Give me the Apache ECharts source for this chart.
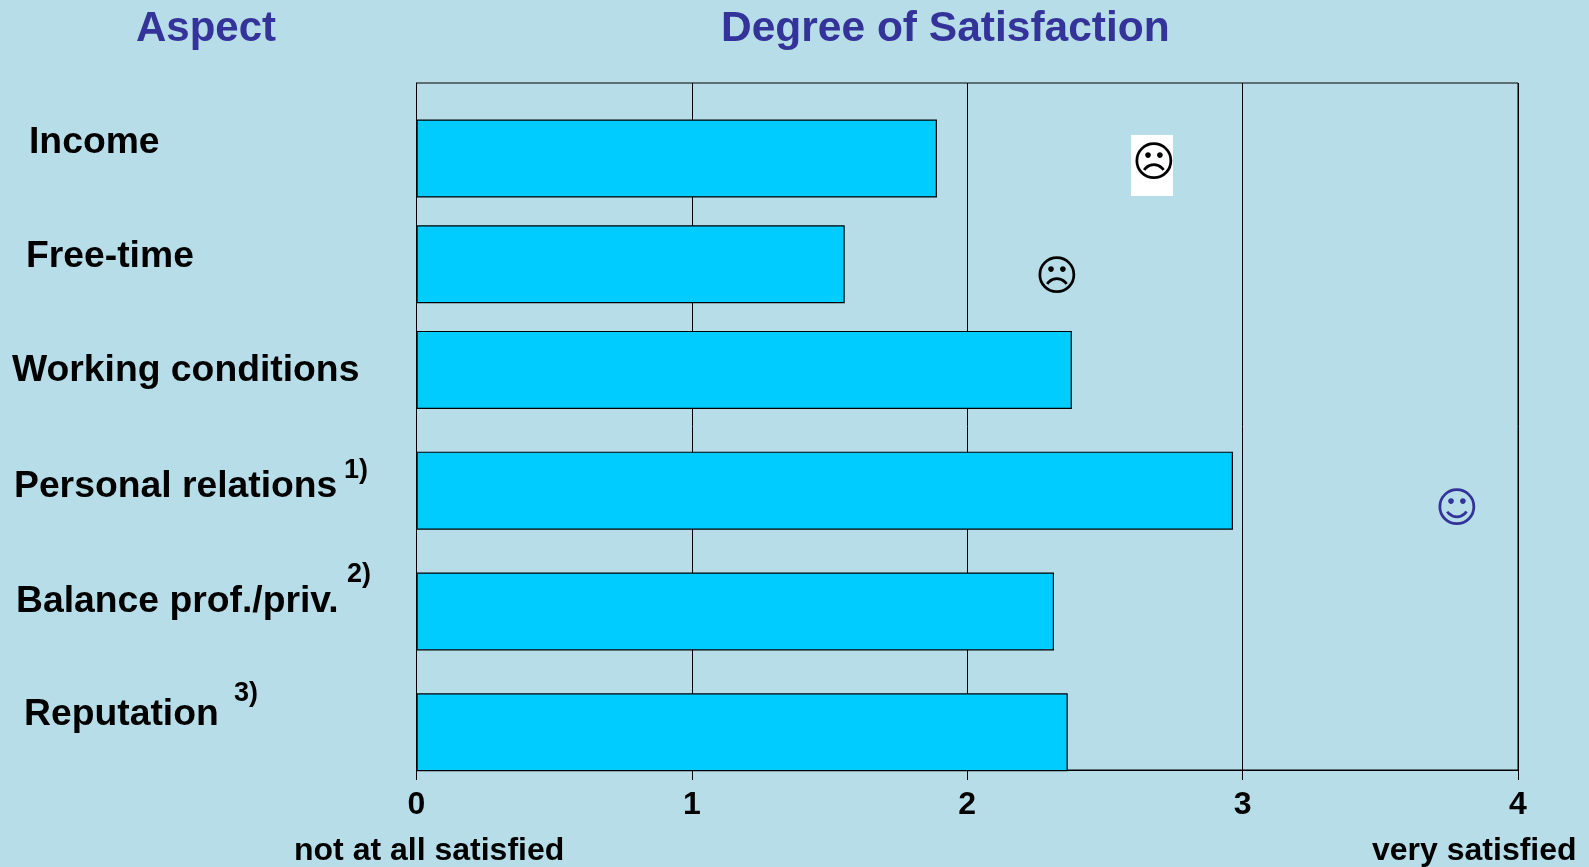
<!DOCTYPE html>
<html>
<head>
<meta charset="utf-8">
<title>Degree of Satisfaction</title>
<script src="https://cdn.jsdelivr.net/npm/echarts@6/dist/echarts.min.js"></script>
<style>
  html, body { margin: 0; height: 100%; background: #b7dde8; }
  #chart { width: 1589px; height: 867px; }
</style>
</head>
<body>
<div id="chart"></div>
<script>
// Chart data
const aspects = ['Income', 'Free-time', 'Working conditions', 'Personal relations', 'Balance prof./priv.', 'Reputation'];
const satisfaction = [1.89, 1.555, 2.38, 2.965, 2.315, 2.365];
const rowSteps = [14, 14, 16, 16, 16]; // rows are not evenly spaced, steps in axis slots
const scaleTicks = [0, 1, 2, 3, 4];

const FONT = '"Liberation Sans", Arial, sans-serif';
const BLUE = '#333399';

// Category axis with blank slots so the bars land on the uneven rows
const slots = [];
const values = [];
function addBlanks(n) {
    for (let i = 0; i < n; i++) {
        slots.push('');
        values.push(null);
    }
}
addBlanks(10);
aspects.forEach((name, i) => {
    slots.push(name);
    values.push(satisfaction[i]);
    if (i < rowSteps.length) addBlanks(rowSteps[i] - 1);
});
addBlanks(5);

function text(str, x, y, size, color, extra) {
    return {
        type: 'text',
        x: x,
        y: y,
        z: 10,
        style: Object.assign({
            text: str,
            font: 'bold ' + size + 'px ' + FONT,
            fill: color || '#000',
            textVerticalAlign: 'middle'
        }, extra || {})
    };
}

const labelX = [29, 26, 12, 14, 16, 24];
const labelY = [143, 257, 371, 487, 602, 715];
const notes = [
    text('1)', 344, 471, 27),
    text('2)', 347, 575, 27),
    text('3)', 234, 694, 27)
];

const faceFont = '"DejaVu Sans", sans-serif';
function face(glyph, x, y, color) {
    return text(glyph, x, y, 42, color, { font: '42px ' + faceFont, textAlign: 'center' });
}

const myChart = echarts.init(document.getElementById('chart'));

myChart.setOption({
    backgroundColor: '#b7dde8',
    animation: false,
    grid: {
        left: 416.5,
        right: 71,
        top: 83,
        height: 687,
        show: true,
        borderColor: '#000',
        borderWidth: 1
    },
    xAxis: {
        type: 'value',
        min: 0,
        max: 4,
        interval: 1,
        axisLine: { show: true, lineStyle: { color: '#000', width: 1 } },
        axisTick: { show: true, length: 10, lineStyle: { color: '#000', width: 1 } },
        splitLine: { show: true, lineStyle: { color: '#000', width: 1, type: 'solid' } },
        axisLabel: {
            color: '#000',
            fontFamily: FONT,
            fontWeight: 'bold',
            fontSize: 32,
            margin: 19,
            formatter: v => scaleTicks.includes(v) ? String(v) : ''
        }
    },
    yAxis: {
        type: 'category',
        inverse: true,
        boundaryGap: false,
        data: slots,
        axisLine: { show: true, lineStyle: { color: '#000', width: 1 } },
        axisTick: { show: false },
        axisLabel: { show: false },
        splitLine: { show: false }
    },
    series: [{
        name: 'Degree of Satisfaction',
        type: 'bar',
        data: values,
        barWidth: 78,
        clip: false,
        itemStyle: { color: '#00ccff', borderColor: '#000', borderWidth: 1.2 }
    }],
    graphic: [
        text('Aspect', 136, 29, 42, BLUE),
        text('Degree of Satisfaction', 721, 29, 42.5, BLUE),
        ...aspects.map((name, i) => text(name, labelX[i], labelY[i], 37.3)),
        ...notes,
        text('not at all satisfied', 294, 851, 32),
        text('very satisfied', 1372, 851, 32),
        {
            type: 'rect',
            z: 9,
            shape: { x: 1131, y: 135, width: 42, height: 61 },
            style: { fill: '#fff' }
        },
        face('\u2639', 1154, 165, '#000'),
        face('\u2639', 1057, 279, '#000'),
        face('\u263A', 1457, 511, BLUE)
    ]
});

window.addEventListener('resize', function() {
    myChart.resize();
});
</script>
</body>
</html>
